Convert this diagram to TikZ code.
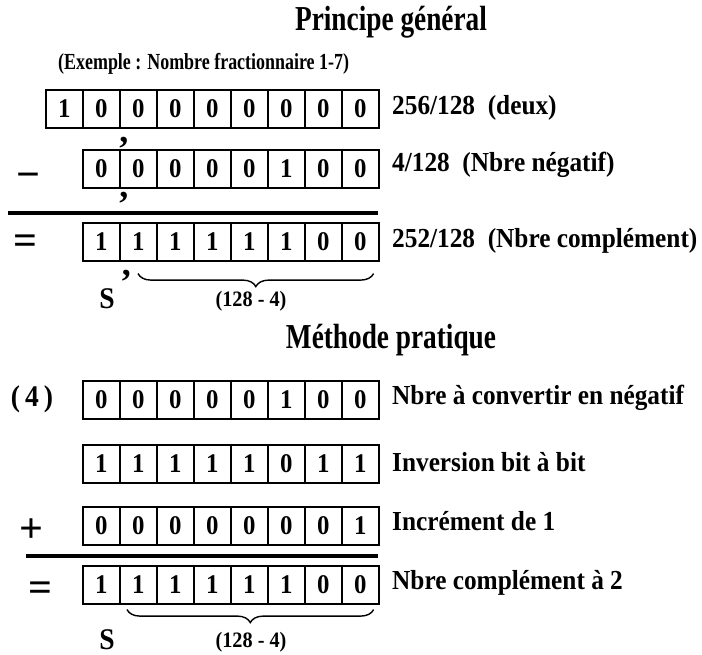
\documentclass[tikz,border=0pt]{standalone}
\usepackage{fontspec}
\setmainfont{Liberation Serif}
\newfontfamily\titlefont{Liberation Serif}[FakeStretch=0.78]
\newfontfamily\narrowfont{Liberation Serif}[FakeStretch=0.92]
\usetikzlibrary{decorations.pathreplacing}

\begin{document}
\begin{tikzpicture}[x=1pt,y=-1pt,
  bit/.style={draw, line width=1.6pt, minimum width=37pt, minimum height=38pt,
    inner sep=0pt, anchor=north west,
    font=\narrowfont\bfseries\fontsize{27}{27}\selectfont},
  lbl/.style={anchor=west, inner sep=0pt,
    font=\narrowfont\bfseries\fontsize{27.5}{27.5}\selectfont},
  heading/.style={inner sep=0pt, font=\titlefont\bfseries\fontsize{35}{35}\selectfont},
  subheading/.style={inner sep=0pt, anchor=west, font=\titlefont\bfseries\fontsize{23}{23}\selectfont},
  oper/.style={inner sep=0pt, anchor=base, font=\bfseries\fontsize{42}{42}\selectfont},
  comma/.style={inner sep=0pt, font=\bfseries\fontsize{36}{36}\selectfont},
  sign/.style={inner sep=0pt, font=\narrowfont\bfseries\fontsize{30}{30}\selectfont},
  bitspan/.style={inner sep=0pt, font=\narrowfont\bfseries\fontsize{22}{22}\selectfont},
  rule/.style={line width=4.5pt},
  brace/.style={decorate, decoration={brace, amplitude=13pt}, line width=1.4pt}
]
\useasboundingbox (0,0) rectangle (702,655);

% ---------- Principe général ----------
\node[heading] (t1) at (391,22) {Principe général};
\node[subheading] (st1) at (58,64) {(Exemple : Nombre fractionnaire 1-7)};

% 256/128 : nine cells
\foreach \d [count=\i] in {1,0,0,0,0,0,0,0,0}
  \node[bit] (a\i) at ({45+(\i-1)*37},89) {\d};
\node[lbl] (la) at (392,108) {256/128\ \ (deux)};

% 4/128 : eight cells
\node[oper] (minus) at (28,189) {−};
\foreach \d [count=\i] in {0,0,0,0,0,1,0,0}
  \node[bit] (b\i) at ({82+(\i-1)*37},149) {\d};
\node[lbl] (lb) at (392,165) {4/128\ \ (Nbre négatif)};
\node[comma, anchor=south west] (cb1) at ([xshift=-1.5pt,yshift=1pt]b1.north east) {,};
\node[comma, anchor=north west] (cb2) at ([xshift=-1.5pt,yshift=-3pt]b1.south east) {,};

\coordinate (ra) at (8,213);
\coordinate (rb) at (378,213);
\draw[rule] (ra) -- (rb);

% 252/128 : result
\node[oper] (eq1) at (25,255) {=};
\foreach \d [count=\i] in {1,1,1,1,1,1,0,0}
  \node[bit] (c\i) at ({82+(\i-1)*37},222) {\d};
\node[lbl] (lc) at (392,241) {252/128\ \ (Nbre complément)};
\node[comma, anchor=north west] (cc) at ([xshift=1pt,yshift=-8pt]c1.south east) {,};
\draw[brace] ([xshift=-6pt,yshift=-12pt]c8.south east) -- ([xshift=19pt,yshift=-12pt]c2.south west);
\node[sign] (s1) at (107,299) {S};
\node[bitspan] (g1) at (251,301) {(128 - 4)};

% ---------- Méthode pratique ----------
\node[heading] (t2) at (391,340) {Méthode pratique};

\node[sign] (four) at (32,399) {(\,4\,)};
\foreach \d [count=\i] in {0,0,0,0,0,1,0,0}
  \node[bit] (d\i) at ({82+(\i-1)*37},380) {\d};
\node[lbl] (ld) at (392,398) {Nbre à convertir en négatif};

\foreach \d [count=\i] in {1,1,1,1,1,0,1,1}
  \node[bit] (e\i) at ({82+(\i-1)*37},444) {\d};
\node[lbl] (le) at (392,462) {Inversion bit à bit};

\node[oper] (plus) at (31,542) {+};
\foreach \d [count=\i] in {0,0,0,0,0,0,0,1}
  \node[bit] (f\i) at ({82+(\i-1)*37},506) {\d};
\node[lbl] (lf) at (392,521) {Incrément de 1};

\coordinate (rc) at (26,556);
\coordinate (rd) at (378,556);
\draw[rule] (rc) -- (rd);

\node[oper] (eq2) at (40,601) {=};
\foreach \d [count=\i] in {1,1,1,1,1,1,0,0}
  \node[bit] (g\i) at ({82+(\i-1)*37},565) {\d};
\node[lbl] (lg) at (392,583) {Nbre complément à 2};
\draw[brace] ([xshift=-6pt,yshift=-5pt]g8.south east) -- ([xshift=8pt,yshift=-5pt]g2.south west);
\node[sign] (s2) at (107,640) {S};
\node[bitspan] (g2r) at (251,642) {(128 - 4)};
\end{tikzpicture}
\end{document}
